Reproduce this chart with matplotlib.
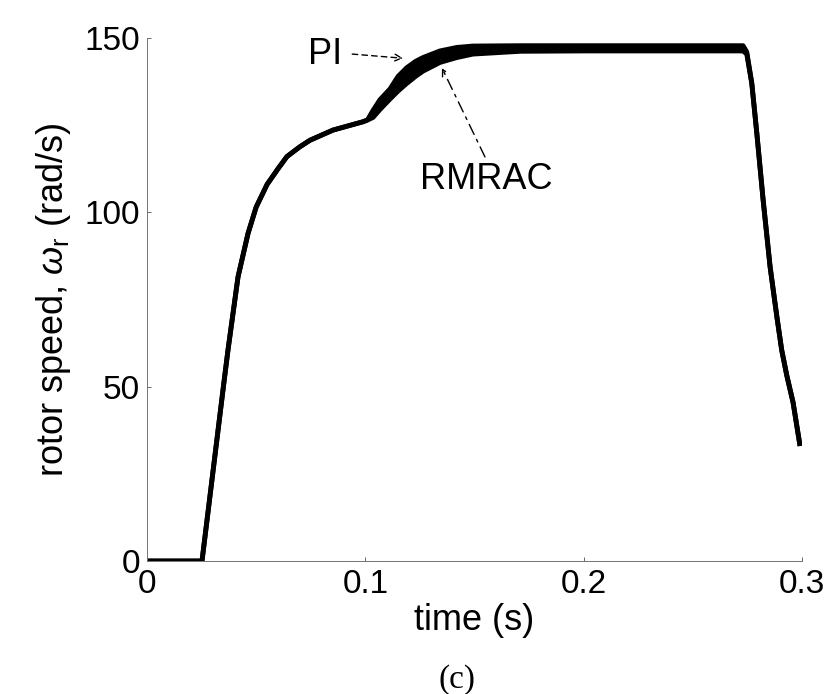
import matplotlib
matplotlib.use("Agg")
import matplotlib.pyplot as plt

plt.rcParams['font.family'] = ['Liberation Sans', 'DejaVu Sans']
plt.rcParams['mathtext.fontset'] = 'custom'
plt.rcParams['mathtext.rm'] = 'Liberation Sans'
plt.rcParams['mathtext.it'] = 'Liberation Sans:italic'

# ---- data ----
time_s = [0.000, 0.0252, 0.0350, 0.0371, 0.0417, 0.0463, 0.0500, 0.0550, 0.0600,
          0.0641, 0.0700, 0.0747, 0.0852, 0.0990, 0.1010, 0.1035, 0.1067, 0.1113,
          0.1150, 0.1190, 0.1230, 0.1264, 0.1342, 0.1419, 0.1493, 0.1710, 0.2000,
          0.2500, 0.2730, 0.2747, 0.2770, 0.2793, 0.2822, 0.2854, 0.2885, 0.2907,
          0.2930, 0.2959, 0.2991]

speed_rmrac = [0, 0, 50, 60.5, 81.5, 94, 101.5, 108, 112.5,
               116, 118.8, 120.7, 123.6, 126, 126.5, 127.2, 129.5, 132.5,
               134.8, 137, 139, 140.5, 143, 144.4, 145.4, 146.2, 146.3,
               146.3, 146.3, 145.4, 137, 122.7, 103.5, 84.3, 70, 60.5,
               53.3, 45.5, 33]

speed_pi = [0, 0, 50, 60.5, 81.5, 94, 101.5, 108, 112.5,
            116, 118.8, 120.7, 123.6, 126, 126.5, 129.2, 132.3, 135.4,
            139, 141.5, 143.3, 144.4, 146.3, 147.3, 147.7, 147.8, 147.8,
            147.8, 147.8, 146, 137, 122.7, 103.5, 84.3, 70, 60.5,
            53.3, 45.5, 33]

x_ticks = [0, 0.1, 0.2, 0.3]
x_tick_labels = ['0', '0.1', '0.2', '0.3']
y_ticks = [0, 50, 100, 150]
y_tick_labels = ['0', '50', '100', '150']

# annotation anchors (text position, arrow tail, arrow head) in data units
pi_text = (0.0893, 145.4)
pi_tail = (0.0940, 145.4)
pi_head = (0.1173, 144.2)
rmrac_text = (0.1555, 109.5)
rmrac_tail = (0.1548, 115.9)
rmrac_head = (0.1351, 141.4)

fig = plt.figure(figsize=(8.37, 6.94), dpi=100)
ax = fig.add_axes([0.1756, 0.1916, 0.7826, 0.7536])

# the two responses nearly coincide; the narrow gap between them is inked solid
ax.fill_between(time_s, speed_rmrac, speed_pi, color='black', lw=0)
ax.plot(time_s, speed_pi, color='black', lw=3.5, solid_capstyle='butt', solid_joinstyle='round')
ax.plot(time_s, speed_rmrac, color='black', lw=3.5, solid_capstyle='butt', solid_joinstyle='round')

ax.set_xlim(0, 0.3)
ax.set_ylim(0, 150)
ax.set_xticks(x_ticks)
ax.set_xticklabels(x_tick_labels)
ax.set_yticks(y_ticks)
ax.set_yticklabels(y_tick_labels)
ax.tick_params(direction='in', length=3, width=0.7, color='0.4', labelsize=24)
ax.tick_params(axis='x', pad=6)
ax.tick_params(axis='y', pad=5)

for side in ['top', 'right']:
    ax.spines[side].set_visible(False)
for side in ['left', 'bottom']:
    ax.spines[side].set_color('0.45')
    ax.spines[side].set_linewidth(0.7)

ax.set_xlabel('time (s)', fontsize=26, labelpad=2)
ax.set_ylabel(r'rotor speed, $\omega_{\mathrm{r}}$ (rad/s)', fontsize=26, labelpad=8)

ax.text(*pi_text, 'PI', fontsize=26, ha='right', va='center')
ax.annotate('', xy=pi_head, xytext=pi_tail,
            arrowprops=dict(arrowstyle='->', color='black', lw=1.0,
                            linestyle=(0, (4, 3)), shrinkA=0, shrinkB=0,
                            mutation_scale=12))
ax.text(*rmrac_text, 'RMRAC', fontsize=26, ha='center', va='center')
ax.annotate('', xy=rmrac_head, xytext=rmrac_tail,
            arrowprops=dict(arrowstyle='->', color='black', lw=1.0,
                            linestyle=(0, (8, 4, 2, 4)), shrinkA=0, shrinkB=0,
                            mutation_scale=12))

fig.text(457 / 837, 1 - 680 / 694, '(c)', fontsize=24, family='Liberation Serif',
         ha='center', va='center')

fig.savefig('out.png', dpi=100)
